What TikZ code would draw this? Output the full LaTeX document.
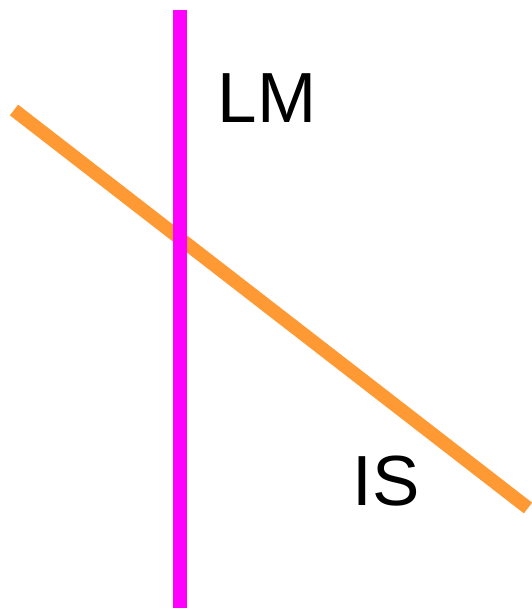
\documentclass[tikz,border=0pt]{standalone}
\usepackage{fontspec}
\setmainfont{Liberation Sans}
\usepackage{tikz}
\usetikzlibrary{positioning}
\definecolor{lmcol}{RGB}{255,0,255}
\definecolor{iscol}{RGB}{255,153,51}

\begin{document}
\begin{tikzpicture}[
  x=1pt,y=-1pt,
  curve/.style={line width=13.5pt,line cap=butt},
  lab/.style={anchor=base,inner sep=0pt,font=\fontsize{71}{71}\selectfont}
]
\useasboundingbox (0,0) rectangle (531,609);
\coordinate (lmtop) at (180,10);
\coordinate (lmbot) at (180,608);
\coordinate (isl) at (14,110);
\coordinate (isr) at (528,508);
\draw[curve,iscol] (isl) -- (isr);
\draw[curve,lmcol,line width=14pt] (lmtop) -- (lmbot);
\node[lab] (lm) at (267,123) {LM};
\node[lab] (is) at (386,505) {IS};
\end{tikzpicture}
\end{document}
